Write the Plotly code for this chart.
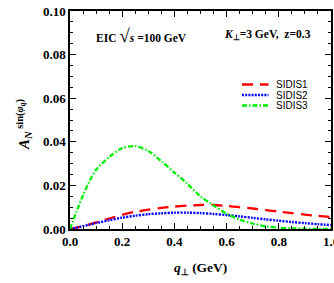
import plotly.graph_objects as go

q_perp = [0, 0.025, 0.05, 0.075, 0.1, 0.15, 0.2, 0.25, 0.3, 0.35, 0.4, 0.45, 0.5,
          0.55, 0.6, 0.65, 0.7, 0.75, 0.8, 0.85, 0.9, 0.95, 1.0]
sidis1 = [0, 0.0006, 0.0013, 0.0021, 0.0030, 0.0048, 0.0065, 0.0079, 0.0089, 0.0097,
          0.0103, 0.0107, 0.0110, 0.0110, 0.0106, 0.0100, 0.0094, 0.0087, 0.0080,
          0.0073, 0.0066, 0.0060, 0.0055]
sidis2 = [0, 0.0006, 0.0013, 0.0020, 0.0027, 0.0040, 0.0052, 0.0061, 0.0068, 0.0072,
          0.0075, 0.0075, 0.0073, 0.0069, 0.0064, 0.0058, 0.0051, 0.0044, 0.0038,
          0.0032, 0.0027, 0.0022, 0.0018]
sidis3 = [0, 0.0080, 0.0155, 0.0220, 0.0272, 0.0330, 0.0371, 0.0380, 0.0358, 0.0311,
          0.0259, 0.0207, 0.0150, 0.0108, 0.0070, 0.0043, 0.0025, 0.0012, 0.0006,
          0.0003, 0.0001, 0.0, 0.0]
series_names = ["SIDIS1", "SIDIS2", "SIDIS3"]
x_ticks = [0.0, 0.2, 0.4, 0.6, 0.8, 1.0]
y_ticks = [0.00, 0.02, 0.04, 0.06, 0.08, 0.10]

colors = ["#ff0000", "#0000ff", "#00ee00"]
dashes = ["11px,7px", "2px,1.2px", "5px,2px,1.5px,2px"]
widths = [2.3, 2.4, 2.3]

fig = go.Figure()
for name, ys, c, d, w in zip(series_names, [sidis1, sidis2, sidis3], colors, dashes, widths):
    fig.add_trace(go.Scatter(x=q_perp, y=ys, mode="lines", name=name,
                             line=dict(color=c, dash=d, width=w, shape="spline", smoothing=0.8),
                             showlegend=False, hoverinfo="skip"))

serif = "Liberation Serif, Times New Roman, serif"
axis_common = dict(showline=True, linecolor="black", linewidth=1.6, mirror="allticks",
                   ticks="inside", ticklen=6, tickwidth=1.3, tickcolor="black",
                   showgrid=False, zeroline=False, automargin=False, ticklabeloverflow="allow",
                   tickfont=dict(family=serif, size=13, color="black", weight="bold"))

fig.update_layout(
    width=334, height=283,
    margin=dict(l=70, r=3, t=11, b=54, autoexpand=False),
    paper_bgcolor="white", plot_bgcolor="white",
    xaxis=dict(range=[0, 1], tickvals=x_ticks, ticktext=[f"{v:.1f}" for v in x_ticks],
               minor=dict(dtick=0.05, tick0=0, ticks="inside", ticklen=3, tickcolor="black", tickwidth=1),
               **axis_common),
    yaxis=dict(range=[0, 0.1], tickvals=y_ticks, ticktext=[f"{v:.2f}" for v in y_ticks],
               minor=dict(dtick=0.005, tick0=0, ticks="inside", ticklen=3, tickcolor="black", tickwidth=1),
               **axis_common),
    showlegend=False,
)

# x-axis title
fig.add_annotation(xref="paper", yref="paper", x=0.5, y=(229 - 268) / 218, xanchor="center", yanchor="middle",
                   text="<b><i>q</i><sub>\u22a5</sub> (GeV)</b>", showarrow=False,
                   font=dict(family=serif, size=13.5, color="black"))
# y-axis title
fig.add_annotation(xref="paper", yref="paper", x=(24 - 70) / 261, y=(229 - 125) / 218,
                   xanchor="center", yanchor="middle",
                   textangle=-90, showarrow=False,
                   text="<b><i>A</i><sub><i>N</i></sub><sup> sin(<i>\u03c6<sub>q</sub></i>)</sup></b>",
                   font=dict(family=serif, size=15, color="black"))
# in-plot labels
fig.add_annotation(xref="paper", yref="paper", x=(94 - 70) / 261, y=(229 - 35) / 218,
                   xanchor="left", yanchor="middle", showarrow=False,
                   text="<b>EIC <span style='font-size:19px'>\u221a</span><i>s</i> =100 GeV</b>",
                   font=dict(family=serif, size=11.5, color="black"))
fig.add_annotation(xref="paper", yref="paper", x=(222 - 70) / 261, y=(229 - 35) / 218,
                   xanchor="left", yanchor="middle", showarrow=False,
                   text="<b><i>K</i><sub>\u22a5</sub>=3 GeV,  z=0.3</b>",
                   font=dict(family=serif, size=11.5, color="black"))

# manual legend
leg_y = [84.5, 95, 105.5]
for name, c, d, w, yy in zip(series_names, colors, dashes, widths, leg_y):
    yp = (229 - yy) / 218
    fig.add_shape(type="line", xref="paper", yref="paper",
                  x0=(242 - 70) / 261, x1=(268.5 - 70) / 261, y0=yp, y1=yp,
                  line=dict(color=c, dash=d, width=w))
    fig.add_annotation(xref="paper", yref="paper", x=(274 - 70) / 261, y=yp,
                       xanchor="left", yanchor="middle", showarrow=False, text=name,
                       font=dict(family="Liberation Sans, Arial, sans-serif", size=10, color="black"))

fig.write_html("out.html", config={"displayModeBar": False, "staticPlot": True},
               post_script="document.body.style.margin='0';document.body.style.overflow='hidden';")
